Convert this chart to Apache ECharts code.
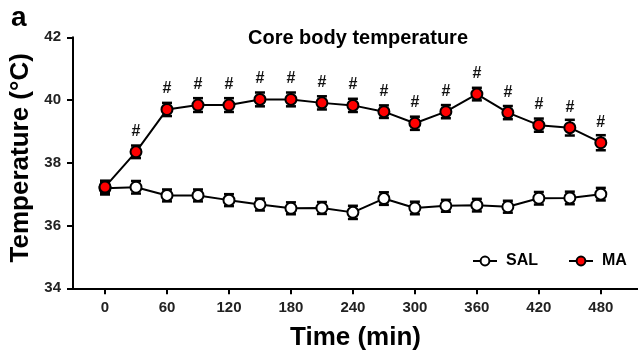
<!DOCTYPE html>
<html>
<head>
<meta charset="utf-8">
<script src="https://cdn.jsdelivr.net/npm/echarts@6/dist/echarts.min.js"></script>
<style>
  html, body { margin: 0; padding: 0; background: #fff; }
  #chart { width: 638px; height: 354px; }
</style>
</head>
<body>
<div id="chart"></div>
<script>
const times = [0, 30, 60, 90, 120, 150, 180, 210, 240, 270, 300, 330, 360, 390, 420, 450, 480];
const salMean = [37.19, 37.22, 36.96, 36.96, 36.81, 36.67, 36.55, 36.56, 36.42, 36.86, 36.56, 36.63, 36.65, 36.6, 36.87, 36.88, 37.0];
const salErr = [0.2, 0.2, 0.19, 0.19, 0.19, 0.19, 0.19, 0.19, 0.21, 0.2, 0.2, 0.19, 0.2, 0.19, 0.2, 0.2, 0.2];
const maMean = [37.23, 38.35, 39.7, 39.84, 39.84, 40.02, 40.02, 39.91, 39.83, 39.63, 39.26, 39.63, 40.19, 39.6, 39.2, 39.12, 38.64];
const maErr = [0.2, 0.2, 0.21, 0.22, 0.22, 0.22, 0.22, 0.21, 0.21, 0.2, 0.21, 0.21, 0.2, 0.21, 0.21, 0.25, 0.24];
const maSig = ['', '#', '#', '#', '#', '#', '#', '#', '#', '#', '#', '#', '#', '#', '#', '#', '#'];
const xTicks = [0, 60, 120, 180, 240, 300, 360, 420, 480];

const font = 'Liberation Sans, Arial, sans-serif';

function errorSeries(mean, err) {
    return {
        type: 'custom',
        silent: true,
        z: 1,
        data: times.map((t, i) => [t, mean[i] - err[i], mean[i] + err[i]]),
        renderItem: (params, api) => {
            const lo = api.coord([api.value(0), api.value(1)]);
            const hi = api.coord([api.value(0), api.value(2)]);
            const w = 5;
            const style = { stroke: '#000', lineWidth: 2.5 };
            return {
                type: 'group',
                children: [
                    { type: 'line', shape: { x1: lo[0], y1: lo[1], x2: hi[0], y2: hi[1] }, style },
                    { type: 'line', shape: { x1: lo[0] - w, y1: lo[1], x2: lo[0] + w, y2: lo[1] }, style },
                    { type: 'line', shape: { x1: hi[0] - w, y1: hi[1], x2: hi[0] + w, y2: hi[1] }, style },
                ],
            };
        },
    };
}

const chart = echarts.init(document.getElementById('chart'));
chart.setOption({
    animation: false,
    backgroundColor: '#fff',
    textStyle: { fontFamily: font },
    title: {
        text: 'Core body temperature',
        left: 353,
        top: 23,
        textAlign: 'center',
        textStyle: { fontSize: 20, fontWeight: 'bold', color: '#000', fontFamily: font },
    },
    graphic: [
        {
            type: 'text',
            left: 11,
            top: 4,
            style: { text: 'a', fill: '#000', font: 'bold 28px ' + font },
        },
    ],
    legend: {
        left: 467,
        top: 248,
        itemWidth: 24,
        itemHeight: 11,
        itemGap: 30,
        data: ['SAL', 'MA'],
        textStyle: { fontSize: 16, fontWeight: 'bold', color: '#000', fontFamily: font, padding: [0, 0, 0, 4] },
    },
    grid: { left: 73, right: 0, top: 37.3, bottom: 65.7, outerBoundsMode: 'none' },
    xAxis: {
        type: 'value',
        min: -31,
        max: 516,
        name: 'Time (min)',
        nameLocation: 'middle',
        nameGap: 37,
        nameTextStyle: { fontSize: 26, fontWeight: 'bold', color: '#000', fontFamily: font },
        splitLine: { show: false },
        axisLine: { onZero: false, lineStyle: { color: '#000', width: 2 } },
        axisTick: { customValues: xTicks, length: 6, lineStyle: { color: '#000', width: 2 } },
        axisLabel: {
            customValues: xTicks,
            margin: 12,
            fontSize: 15,
            fontWeight: 'bold',
            color: '#222',
            fontFamily: font,
        },
    },
    yAxis: {
        type: 'value',
        min: 34,
        max: 42,
        interval: 2,
        name: 'Temperature (°C)',
        nameLocation: 'middle',
        nameGap: 38,
        nameTextStyle: { fontSize: 26, fontWeight: 'bold', color: '#000', fontFamily: font, padding: [0, 0, 0, 10] },
        splitLine: { show: false },
        axisLine: { show: true, onZero: false, lineStyle: { color: '#000', width: 2 } },
        axisTick: { show: true, length: 6, lineStyle: { color: '#000', width: 2 } },
        axisLabel: { margin: 12, fontSize: 15, fontWeight: 'bold', color: '#222', fontFamily: font },
    },
    series: [
        errorSeries(salMean, salErr),
        errorSeries(maMean, maErr),
        {
            name: 'SAL',
            type: 'line',
            z: 3,
            data: times.map((t, i) => [t, salMean[i]]),
            symbol: 'circle',
            symbolSize: 11,
            lineStyle: { color: '#000', width: 2 },
            itemStyle: { color: '#fff', borderColor: '#000', borderWidth: 2 },
        },
        {
            name: 'MA',
            type: 'line',
            z: 4,
            data: times.map((t, i) => [t, maMean[i]]),
            symbol: 'circle',
            symbolSize: 11,
            lineStyle: { color: '#000', width: 2 },
            itemStyle: { color: '#ff0000', borderColor: '#000', borderWidth: 2 },
            label: {
                show: true,
                position: 'top',
                distance: 6,
                formatter: p => maSig[p.dataIndex],
                fontSize: 16,
                fontWeight: 'bold',
                color: '#111',
                fontFamily: font,
            },
        },
    ],
});
</script>
</body>
</html>
